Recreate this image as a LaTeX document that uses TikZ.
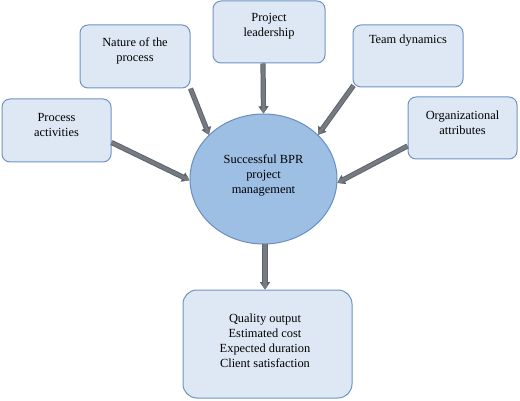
\documentclass[tikz,border=0pt]{standalone}
\usepackage{fontspec}
\setmainfont{Liberation Serif}
\usetikzlibrary{arrows.meta,calc,shapes.geometric}
\definecolor{boxfill}{HTML}{DEE8F4}
\definecolor{boxline}{HTML}{6F93C2}
\definecolor{circfill}{HTML}{9DBFE4}
\definecolor{circline}{HTML}{6A8EBE}
\definecolor{arrfill}{HTML}{7A7A7A}
\definecolor{arrline}{HTML}{55657A}
\begin{document}
\begin{tikzpicture}[x=1pt,y=-1pt,
  box/.style={draw=boxline, line width=1pt, fill=boxfill, rounded corners=8pt, inner sep=0pt},
  txt/.style={align=center, font=\fontsize{12.4}{15}\selectfont, inner sep=0pt},
  conn/.style={line width=3.2pt, draw=arrfill, -{Triangle[length=0pt 1.4, width=0pt 1.9]},
    preaction={draw=arrline, line width=5.2pt, -{Triangle[length=0pt 1.4, width=0pt 1.9]}}}]
\useasboundingbox (0,0) rectangle (520,401);
% boxes
\node[box, minimum width=109pt, minimum height=63pt] (proc) at (56.5,130.5) {};
\node[box, minimum width=110pt, minimum height=63pt] (nature) at (135,56.5) {};
\node[box, minimum width=112pt, minimum height=62pt] (lead) at (269,32) {};
\node[box, minimum width=110pt, minimum height=62pt] (team) at (408,56) {};
\node[box, minimum width=109pt, minimum height=62pt] (org) at (462.5,128) {};
\node[ellipse, draw=circline, fill=circfill, line width=1pt, minimum width=147pt, minimum height=130pt, inner sep=0pt] (circ) at (263.5,179) {};
\node[box, rounded corners=14pt, minimum width=169pt, minimum height=108pt] (out) at (267.5,344) {};
% texts
\node[txt] (proctxt) at (56.5,125) {Process\\activities};
\node[txt] (naturetxt) at (135,51) {Nature of the\\process};
\node[txt] (leadtxt) at (269,26) {Project\\leadership};
\node[txt] (teamtxt) at (408,41) {Team dynamics};
\node[txt] (orgtxt) at (462.5,123) {Organizational\\attributes};
\node[txt] (circtxt) at (263.5,175) {Successful BPR\\project\\management};
\node[txt] (outtxt) at (265,341) {Quality output\\Estimated cost\\Expected duration\\Client satisfaction};
% connectors
\coordinate (bs) at ($(circ.south)+(1.5,0)$);
\draw[conn] ($(proc.east)+(0,12)$) -- (circ.181);
\draw[conn] (nature.south east) -- (circ.141);
\draw[conn] ($(lead.south)+(-6,0)$) -- (circ.north);
\draw[conn] ($(team.south west)+(1,-2)$) -- (circ.39);
\draw[conn] ($(org.west)+(0,18)$) -- (circ.-3);
\draw[conn] (bs) -- (bs |- out.north);
\end{tikzpicture}
\end{document}
